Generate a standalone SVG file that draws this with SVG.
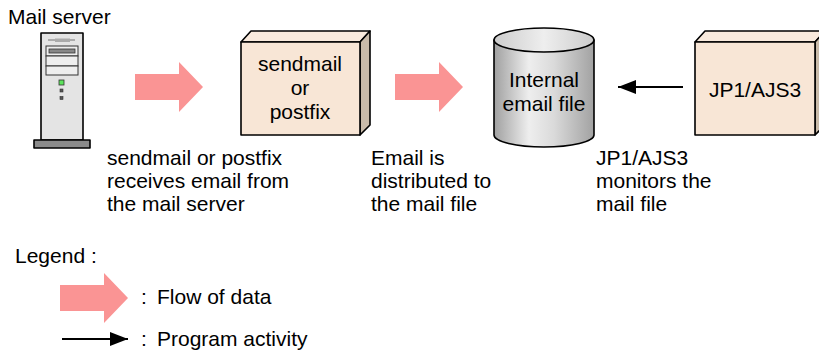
<svg xmlns="http://www.w3.org/2000/svg" width="819" height="356" viewBox="0 0 819 356">
<style>
text{font-family:"Liberation Sans",Arial,sans-serif;font-size:21px;fill:#000}
.c{text-anchor:middle}
.ln{stroke:#000;stroke-width:1.6;stroke-linejoin:round}
.flow{fill:#FA9494}
.front{fill:#F8E6D6}
.top{fill:#F9EADD}
.side{fill:#C9BBAA}
</style>
<defs>
<linearGradient id="cyl" x1="0" y1="0" x2="1" y2="0">
<stop offset="0" stop-color="#a0a0a0"/>
<stop offset="0.35" stop-color="#eeeeee"/>
<stop offset="0.6" stop-color="#dadada"/>
<stop offset="1" stop-color="#a2a2a2"/>
</linearGradient>
<linearGradient id="cyltop" x1="0" y1="0" x2="1" y2="0">
<stop offset="0" stop-color="#cccccc"/>
<stop offset="0.5" stop-color="#eeeeee"/>
<stop offset="1" stop-color="#cccccc"/>
</linearGradient>
<marker id="ah" markerWidth="18" markerHeight="14" refX="18" refY="7" orient="auto" markerUnits="userSpaceOnUse">
<path d="M0,0 L18,7 L0,14 Z" fill="#000"/>
</marker>
<path id="bigarrow" d="M0,12 H44 V0 L68,25 L44,50 V38 H0 Z"/>
</defs>

<g id="mail-server">
<text x="8" y="24">Mail server</text>
<rect x="41" y="33" width="42" height="107" fill="#E4E4E4" class="ln"/>
<line x1="48" y1="40" x2="75" y2="40" stroke="#999" stroke-width="1.5"/>
<rect x="55" y="38.5" width="15" height="3.5" fill="#aaa"/>
<rect x="46" y="46" width="32" height="10" fill="#eeeeee" stroke="#333" stroke-width="1"/>
<rect x="49" y="49" width="26" height="4" fill="#888" stroke="#333" stroke-width="0.8"/>
<rect x="46" y="56" width="32" height="10" fill="#eeeeee" stroke="#333" stroke-width="1"/>
<rect x="46" y="66" width="32" height="9" fill="#eeeeee" stroke="#333" stroke-width="1"/>
<rect x="59" y="80" width="5" height="5" fill="#5BE35B" stroke="#333" stroke-width="0.8"/>
<rect x="60" y="89" width="3" height="3" fill="#555" stroke="#333" stroke-width="0.6"/>
<rect x="60" y="96.5" width="3" height="3" fill="#555" stroke="#333" stroke-width="0.6"/>
<rect x="34" y="140" width="56" height="8" fill="#8a8a8a" class="ln"/>
</g>

<g id="sendmail">
<path class="top ln" d="M241,42 L251,31 L370,31 L360,42 Z"/>
<path class="side ln" d="M360,42 L370,31 L370,125 L360,135 Z"/>
<rect class="front ln" x="241" y="42" width="119" height="93"/>
<text class="c" x="300" y="71">sendmail</text>
<text class="c" x="300" y="95">or</text>
<text class="c" x="300" y="119">postfix</text>
</g>

<g id="email-file">
<path d="M494,40 V135 A50,12 0 0 0 594,135 V40 Z" fill="url(#cyl)" class="ln"/>
<ellipse cx="544" cy="40" rx="50" ry="12" fill="url(#cyltop)" class="ln"/>
<text class="c" x="544" y="87">Internal</text>
<text class="c" x="544" y="111">email file</text>
</g>

<g id="jp1">
<path class="top ln" d="M695,42 L705,31 L825,31 L815,42 Z"/>
<path class="side ln" d="M815,42 L825,31 L825,125 L815,135 Z"/>
<rect class="front ln" x="695" y="42" width="120" height="93"/>
<text class="c" x="755" y="97">JP1/AJS3</text>
</g>

<g id="connectors">
<use href="#bigarrow" class="flow" x="135" y="62"/>
<use href="#bigarrow" class="flow" x="395" y="62"/>
<line x1="683" y1="87" x2="618" y2="87" stroke="#000" stroke-width="2" marker-end="url(#ah)"/>
</g>

<g id="captions">
<text x="107" y="165">sendmail or postfix</text>
<text x="107" y="188">receives email from</text>
<text x="107" y="211">the mail server</text>
<text x="371" y="165">Email is</text>
<text x="371" y="188">distributed to</text>
<text x="371" y="211">the mail file</text>
<text x="596" y="165">JP1/AJS3</text>
<text x="596" y="188">monitors the</text>
<text x="596" y="211">mail file</text>
</g>

<g id="legend">
<text x="15" y="263">Legend<tspan x="91">:</tspan></text>
<use href="#bigarrow" class="flow" x="60" y="273"/>
<text x="141" y="304">:<tspan x="157">Flow of data</tspan></text>
<line x1="62" y1="339" x2="128" y2="339" stroke="#000" stroke-width="2" marker-end="url(#ah)"/>
<text x="141" y="346">:<tspan x="157">Program activity</tspan></text>
</g>
</svg>
